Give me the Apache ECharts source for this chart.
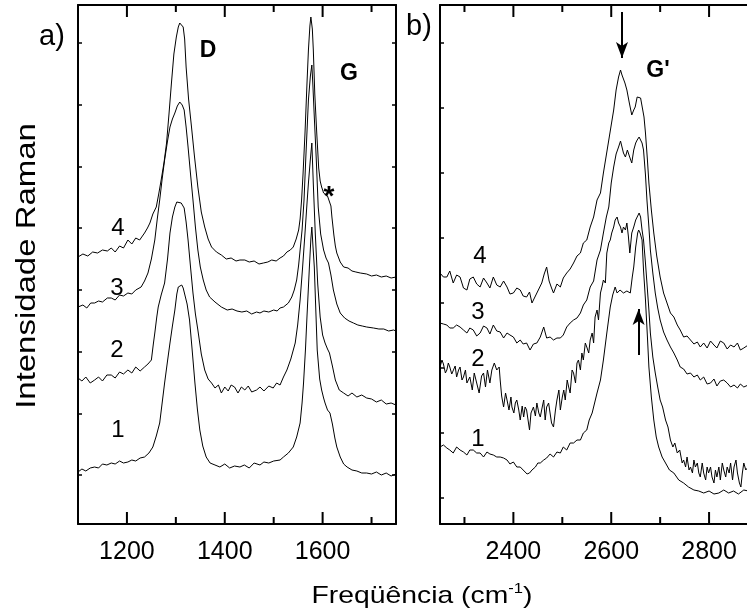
<!DOCTYPE html>
<html><head><meta charset="utf-8">
<script src="https://cdn.jsdelivr.net/npm/echarts@6/dist/echarts.min.js"></script>
<style>html,body{margin:0;padding:0;background:#fff}#c{width:747px;height:615px}</style>
</head><body><div id="c"></div>
<script>
// ---------- DATA ----------
// Panel a) D and G bands: [wavenumber (cm-1), intensity (arb. units, stacked)]
const spectrumA4 = [[1100,267],[1110,270],[1120,268],[1130,272],[1140,271],[1150,274],[1160,273],[1168,276],[1176,272],[1185,278],[1193,276],[1202,284],[1210,280],[1218,286],[1226,284],[1236,291],[1242,296],[1247,301],[1253,310],[1260,317],[1265,330],[1270,344],[1276,362],[1281,381],[1286,410],[1291,441],[1296,470],[1301,487],[1305,497],[1308,501],[1312,500],[1315,497],[1318,485],[1321,457],[1326,425],[1332,397],[1338,368],[1345,337],[1352,312],[1359,297],[1366,285],[1373,277],[1383,272],[1393,269],[1403,265],[1413,266],[1423,263],[1431,264],[1441,264],[1450,262],[1460,263],[1470,260],[1479,261],[1488,262],[1496,264],[1505,263],[1513,266],[1520,268],[1527,272],[1534,274],[1540,277],[1546,285],[1551,294],[1554,305],[1557,324],[1560,350],[1564,391],[1568,440],[1571,474],[1574,498],[1576,507],[1579,495],[1581,474],[1584,430],[1588,391],[1592,356],[1595,343],[1598,337],[1602,331],[1605,329],[1610,328],[1614,327],[1617,318],[1619,307],[1623,289],[1626,278],[1629,271],[1636,262],[1643,257],[1652,256],[1660,253],[1668,252],[1677,251],[1690,250],[1700,248],[1710,249],[1720,247],[1730,248],[1740,246],[1750,247]];
const spectrumA3 = [[1100,217],[1110,219],[1118,216],[1126,221],[1134,221],[1142,223],[1150,222],[1160,226],[1168,226],[1176,224],[1185,229],[1193,228],[1202,231],[1210,230],[1218,234],[1229,237],[1236,243],[1243,251],[1250,265],[1257,284],[1262,305],[1267,324],[1272,345],[1277,364],[1283,383],[1288,397],[1293,405],[1298,411],[1303,418],[1308,422],[1313,419],[1317,414],[1321,397],[1325,377],[1330,350],[1335,324],[1340,297],[1345,274],[1350,257],[1356,244],[1362,234],[1369,227],[1380,222],[1393,217],[1405,214],[1415,215],[1425,213],[1435,212],[1445,213],[1455,210],[1465,212],[1472,211],[1480,213],[1490,212],[1500,214],[1507,213],[1513,216],[1520,217],[1530,221],[1537,227],[1542,234],[1547,244],[1551,259],[1554,274],[1558,294],[1562,324],[1566,370],[1571,424],[1575,448],[1578,459],[1580,440],[1583,407],[1587,365],[1591,317],[1596,290],[1602,274],[1607,266],[1612,261],[1617,249],[1622,234],[1629,220],[1636,211],[1645,206],[1654,203],[1663,201],[1672,199],[1681,198],[1690,197],[1704,196],[1715,195],[1725,195],[1735,193],[1745,194],[1750,193]];
const spectrumA2 = [[1100,146],[1108,143],[1116,147],[1125,141],[1134,144],[1142,147],[1150,143],[1159,149],[1168,149],[1176,146],[1185,152],[1193,150],[1202,154],[1210,151],[1218,157],[1227,153],[1236,157],[1243,160],[1250,164],[1254,180],[1257,191],[1261,207],[1264,217],[1270,229],[1277,241],[1283,265],[1288,291],[1293,307],[1298,317],[1302,322],[1305,324],[1311,321],[1317,316],[1321,302],[1325,284],[1330,257],[1335,231],[1340,210],[1345,194],[1352,170],[1359,154],[1366,145],[1373,141],[1380,136],[1387,139],[1393,131],[1400,137],[1407,133],[1413,139],[1420,137],[1427,131],[1434,137],[1441,134],[1448,138],[1455,132],[1465,134],[1472,137],[1480,133],[1490,138],[1499,136],[1506,141],[1513,139],[1520,147],[1527,154],[1535,165],[1544,181],[1549,199],[1554,224],[1559,256],[1564,291],[1568,320],[1571,341],[1575,365],[1578,381],[1581,340],[1585,291],[1590,240],[1595,207],[1600,189],[1605,181],[1610,175],[1614,171],[1620,158],[1626,144],[1634,134],[1643,131],[1652,128],[1660,131],[1670,127],[1680,129],[1690,126],[1700,125],[1710,122],[1720,124],[1730,120],[1740,121],[1750,119]];
const spectrumA1 = [[1100,52],[1108,55],[1116,53],[1125,56],[1134,57],[1142,56],[1150,60],[1159,59],[1168,61],[1176,60],[1185,63],[1193,61],[1202,62],[1210,64],[1218,63],[1227,66],[1236,67],[1245,71],[1253,77],[1260,88],[1267,101],[1272,121],[1277,141],[1283,163],[1288,181],[1293,198],[1298,214],[1302,230],[1305,237],[1309,239],[1312,239],[1315,236],[1318,234],[1323,220],[1328,204],[1333,176],[1339,141],[1344,115],[1349,94],[1355,78],[1362,67],[1370,61],[1380,59],[1390,57],[1400,60],[1410,56],[1420,58],[1431,57],[1440,59],[1450,56],[1460,61],[1472,59],[1480,62],[1490,61],[1500,63],[1513,64],[1520,67],[1530,71],[1540,77],[1547,87],[1554,101],[1558,121],[1561,141],[1565,175],[1568,207],[1571,237],[1573,257],[1576,285],[1578,297],[1580,280],[1583,257],[1586,215],[1589,174],[1594,145],[1598,134],[1602,126],[1605,121],[1610,114],[1615,111],[1620,100],[1625,86],[1629,77],[1636,67],[1643,60],[1650,57],[1660,54],[1670,53],[1680,51],[1690,51],[1700,50],[1710,52],[1720,49],[1730,51],[1740,48],[1750,50]];

// Panel b) G' band
const spectrumB4 = [[2250,251],[2257,247],[2264,247],[2270,253],[2277,241],[2284,249],[2291,247],[2298,236],[2305,234],[2311,245],[2318,247],[2325,240],[2332,237],[2339,246],[2346,241],[2352,236],[2359,247],[2366,239],[2373,237],[2380,243],[2387,237],[2393,230],[2400,231],[2407,236],[2414,234],[2420,228],[2427,227],[2433,232],[2438,221],[2443,226],[2448,231],[2453,236],[2458,241],[2463,250],[2468,257],[2473,243],[2478,236],[2482,231],[2489,240],[2496,237],[2502,246],[2509,251],[2516,255],[2523,261],[2530,268],[2537,271],[2543,281],[2550,284],[2557,297],[2564,307],[2571,324],[2578,331],[2584,351],[2590,369],[2595,384],[2600,399],[2605,414],[2610,434],[2615,447],[2619,454],[2622,449],[2625,451],[2628,441],[2632,434],[2637,421],[2642,409],[2646,414],[2649,417],[2653,427],[2656,429],[2660,426],[2663,424],[2667,407],[2670,391],[2674,364],[2677,341],[2682,314],[2687,291],[2693,268],[2700,247],[2707,231],[2714,221],[2721,211],[2728,207],[2735,199],[2741,194],[2748,187],[2755,188],[2762,184],[2769,180],[2776,182],[2782,177],[2789,181],[2796,176],[2803,183],[2810,179],[2816,176],[2823,183],[2830,181],[2837,175],[2844,179],[2851,177],[2858,181],[2864,174],[2871,176],[2880,179]];
const spectrumB3 = [[2250,201],[2257,200],[2264,199],[2270,196],[2277,196],[2284,199],[2291,197],[2298,194],[2305,191],[2311,196],[2318,194],[2325,188],[2332,191],[2339,198],[2346,196],[2352,190],[2359,199],[2366,193],[2373,192],[2380,186],[2387,191],[2393,189],[2400,187],[2407,181],[2414,184],[2420,180],[2427,181],[2434,174],[2441,180],[2448,181],[2455,187],[2462,197],[2468,186],[2475,187],[2482,184],[2489,186],[2496,186],[2502,189],[2509,197],[2516,201],[2523,204],[2530,206],[2537,211],[2543,219],[2550,224],[2557,237],[2564,243],[2571,264],[2578,274],[2584,291],[2590,307],[2595,317],[2600,341],[2605,357],[2610,370],[2615,377],[2619,383],[2622,381],[2625,371],[2629,367],[2633,374],[2637,368],[2642,361],[2646,374],[2650,381],[2653,384],[2657,387],[2660,387],[2663,381],[2666,374],[2670,349],[2673,324],[2677,297],[2680,274],[2685,251],[2690,231],[2695,216],[2700,204],[2707,192],[2714,184],[2721,177],[2728,171],[2735,164],[2741,157],[2748,155],[2755,150],[2762,151],[2769,147],[2776,149],[2782,144],[2789,147],[2796,140],[2803,141],[2810,145],[2816,138],[2823,143],[2830,144],[2837,141],[2844,137],[2851,139],[2858,136],[2864,140],[2871,137],[2880,139]];
const spectrumB2 = [[2250,157],[2254,164],[2257,160],[2261,151],[2264,154],[2267,161],[2270,157],[2274,150],[2277,151],[2281,158],[2284,147],[2288,154],[2291,157],[2295,144],[2298,147],[2302,154],[2305,141],[2311,147],[2316,134],[2320,151],[2325,141],[2330,131],[2335,148],[2339,151],[2343,137],[2347,154],[2352,141],[2356,154],[2361,161],[2366,154],[2371,157],[2373,144],[2376,128],[2380,117],[2384,131],[2387,124],[2391,114],[2395,127],[2397,117],[2401,111],[2404,121],[2407,124],[2411,114],[2414,104],[2418,118],[2421,107],[2424,117],[2427,114],[2430,104],[2433,94],[2436,111],[2441,117],[2445,108],[2448,121],[2452,111],[2455,107],[2459,117],[2462,124],[2465,104],[2468,117],[2472,121],[2475,111],[2478,101],[2482,97],[2486,114],[2489,124],[2493,134],[2496,114],[2500,127],[2503,134],[2506,124],[2510,144],[2513,137],[2516,131],[2520,154],[2523,151],[2527,141],[2530,161],[2533,164],[2537,154],[2540,171],[2543,164],[2547,181],[2550,177],[2554,171],[2557,184],[2561,191],[2564,181],[2567,207],[2571,214],[2574,204],[2578,231],[2581,237],[2584,244],[2588,241],[2591,271],[2595,281],[2598,284],[2601,291],[2605,297],[2608,304],[2612,307],[2615,301],[2619,297],[2622,291],[2625,297],[2629,294],[2632,301],[2635,288],[2638,271],[2642,291],[2646,297],[2650,304],[2653,307],[2657,311],[2660,307],[2663,294],[2666,284],[2670,261],[2673,241],[2677,214],[2680,191],[2685,167],[2690,151],[2695,137],[2700,124],[2705,117],[2711,104],[2716,97],[2721,84],[2726,77],[2730,81],[2735,71],[2740,74],[2745,61],[2748,64],[2752,57],[2755,67],[2759,54],[2762,57],[2766,51],[2769,64],[2772,57],[2776,61],[2779,51],[2782,47],[2786,61],[2789,51],[2793,44],[2796,57],[2799,51],[2803,57],[2806,47],[2810,41],[2813,54],[2816,47],[2820,57],[2823,44],[2827,61],[2830,54],[2834,47],[2837,57],[2841,51],[2844,61],[2848,44],[2851,57],[2855,64],[2858,51],[2862,41],[2865,37],[2868,51],[2871,61],[2875,54],[2880,57]];
const spectrumB1 = [[2250,77],[2257,79],[2264,76],[2270,74],[2277,71],[2284,77],[2291,74],[2298,72],[2305,69],[2311,74],[2318,74],[2325,71],[2332,71],[2339,67],[2346,72],[2352,70],[2359,69],[2366,67],[2373,67],[2380,66],[2387,64],[2393,60],[2400,62],[2407,57],[2414,57],[2420,54],[2424,56],[2428,50],[2433,51],[2438,54],[2445,57],[2450,61],[2455,61],[2462,64],[2468,66],[2475,70],[2482,67],[2489,72],[2496,71],[2502,77],[2509,74],[2516,81],[2523,81],[2530,84],[2537,84],[2543,91],[2550,94],[2555,104],[2561,111],[2566,121],[2571,131],[2578,144],[2584,164],[2591,191],[2598,217],[2603,229],[2608,237],[2612,231],[2618,234],[2625,231],[2632,233],[2639,231],[2643,247],[2646,257],[2650,277],[2654,291],[2656,294],[2659,291],[2663,284],[2666,254],[2670,224],[2674,187],[2677,157],[2682,127],[2687,104],[2692,87],[2697,77],[2704,67],[2711,61],[2719,54],[2728,51],[2738,44],[2748,41],[2758,37],[2769,34],[2779,33],[2789,31],[2800,33],[2810,30],[2820,31],[2830,34],[2840,31],[2850,33],[2860,30],[2871,34],[2880,33]];

// Axes
const rangeA = [1100, 1750];
const rangeB = [2250, 2900];
const intensityRange = [0, 519];
const xMajorA = [1200, 1400, 1600];
const xMinorA = [1300, 1500, 1700];
const xMajorB = [2400, 2600, 2800];
const xMinorB = [2300, 2500, 2700];
const yTicksA = [49, 110.75, 172.5, 234.25, 296, 357.75, 419.5, 481.25];
const yTicksB = [26, 91, 156, 221, 286, 351, 416, 481];

// Annotation arrows in panel b: [x, yStart] -> [x, yEnd]
const arrowDown = [[2622, 512], [2622, 466]];
const arrowUp = [[2656, 169], [2656, 215]];

// ---------- CHART ----------
const FONT = "'Liberation Sans', Arial, Helvetica, sans-serif";
const MAJOR_LEN = 12, MINOR_LEN = 7; // x tick lengths (1 intensity unit = 1 px on these axes)
const chart = echarts.init(document.getElementById('c'));

function xBottom(gi, range, major) {
  return {gridIndex: gi, type: 'value', min: range[0], max: range[1], position: 'bottom',
    splitLine: {show: false},
    axisLine: {show: true, onZero: false, lineStyle: {color: '#000', width: 2}},
    axisTick: {show: false},
    axisLabel: {show: true, customValues: major, color: '#000', fontSize: 25, fontFamily: FONT, margin: 16,
      formatter: function (v) { return String(v); }}};
}
function xTop(gi, range) {
  return {gridIndex: gi, type: 'value', min: range[0], max: range[1], position: 'top',
    splitLine: {show: false},
    axisLine: {show: true, onZero: false, lineStyle: {color: '#000', width: 2}},
    axisTick: {show: false},
    axisLabel: {show: false}};
}
function yAxis(gi, ticks, pos) {
  return {gridIndex: gi, type: 'value', min: intensityRange[0], max: intensityRange[1], position: pos,
    splitLine: {show: false},
    axisLine: {show: true, onZero: false, lineStyle: {color: '#000', width: 2}},
    axisTick: {show: true, inside: true, length: 4, customValues: ticks, lineStyle: {color: '#000', width: 1.5}},
    axisLabel: {show: false}};
}

// x tick marks drawn as broken line segments (bottom + top, inward), from the tick value arrays
function tickPath(major, minor) {
  const lo = intensityRange[0], hi = intensityRange[1], out = [];
  const add = function (v, len) {
    out.push([v, lo], [v, lo + len], [v, null], [v, hi], [v, hi - len], [v, null]);
  };
  major.forEach(function (v) { add(v, MAJOR_LEN); });
  minor.forEach(function (v) { add(v, MINOR_LEN); });
  return out;
}
function tickSeries(major, minor, xi, yi) {
  return {type: 'line', data: tickPath(major, minor), xAxisIndex: xi, yAxisIndex: yi, showSymbol: false, symbol: 'none',
    connectNulls: false, clip: false, silent: true, animation: false, z: 5,
    lineStyle: {color: '#000', width: 2, cap: 'butt'}};
}

function lineSeries(data, xi, yi) {
  return {type: 'line', data: data, xAxisIndex: xi, yAxisIndex: yi, showSymbol: false, symbol: 'none',
    lineStyle: {color: '#000', width: 1}, animation: false, z: 3};
}

const txt = (text, x, y, size, bold) => ({type: 'text', x: x, y: y, silent: true, z: 10,
  style: {text: text, fill: '#000', fontSize: size, fontWeight: bold ? 'bold' : 'normal', fontFamily: FONT, align: 'center', verticalAlign: 'middle'}});

const arrowSeries = lineSeries(spectrumB4, 2, 2);
arrowSeries.markLine = {silent: true, animation: false, symbol: ['none', 'arrow'], symbolSize: [9, 16],
  label: {show: false}, lineStyle: {color: '#000', width: 2, type: 'solid'}, emphasis: {disabled: true},
  data: [[{coord: arrowDown[0]}, {coord: arrowDown[1]}], [{coord: arrowUp[0]}, {coord: arrowUp[1]}]]};

const labels = [
  txt('a)', 52, 37, 29, false),
  txt('b)', 419, 27, 29, false),
  txt('D', 208, 51, 23, true),
  txt('G', 349, 74, 23, true),
  txt('*', 329, 197, 28, true),
  txt("G'", 658, 71, 23, true),
  txt('4', 118, 228, 24, false), txt('3', 117, 288, 24, false), txt('2', 117, 350, 24, false), txt('1', 118, 430, 24, false),
  txt('4', 480, 256, 24, false), txt('3', 478, 312, 24, false), txt('2', 478, 359, 24, false), txt('1', 478, 439, 24, false),
  {type: 'text', x: 28, y: 266, rotation: Math.PI / 2, scaleX: 1.22, silent: true,
    style: {text: 'Intensidade Raman', fill: '#000', fontSize: 27, fontFamily: FONT, align: 'center', verticalAlign: 'middle'}},
  {type: 'text', x: 422, y: 596, scaleX: 1.18, silent: true,
    style: {text: '{m|Freqüência (cm}{s|-1}{m|)}', fill: '#000', fontFamily: FONT, align: 'center', verticalAlign: 'middle',
      rich: {m: {fontSize: 24, fontFamily: FONT, fill: '#000', lineHeight: 28}, s: {fontSize: 14, fontFamily: FONT, fill: '#000', verticalAlign: 'top', lineHeight: 28}}}}
];

const option = {
  animation: false,
  grid: [
    {left: 78, top: 5, width: 318, height: 519, outerBoundsMode: 'none'},
    {left: 440, top: 5, width: 318, height: 519, outerBoundsMode: 'none'}
  ],
  xAxis: [xBottom(0, rangeA, xMajorA), xTop(0, rangeA), xBottom(1, rangeB, xMajorB), xTop(1, rangeB)],
  yAxis: [yAxis(0, yTicksA, 'left'), yAxis(0, yTicksA, 'right'), yAxis(1, yTicksB, 'left'), yAxis(1, yTicksB, 'right')],
  series: [
    tickSeries(xMajorA, xMinorA, 0, 0),
    tickSeries(xMajorB, xMinorB, 2, 2),
    lineSeries(spectrumA1, 0, 0), lineSeries(spectrumA2, 0, 0), lineSeries(spectrumA3, 0, 0), lineSeries(spectrumA4, 0, 0),
    lineSeries(spectrumB1, 2, 2), lineSeries(spectrumB2, 2, 2), lineSeries(spectrumB3, 2, 2), arrowSeries
  ],
  graphic: labels
};
try { chart.setOption(option); } catch (e) { console.error(e); }
</script>
</body></html>
